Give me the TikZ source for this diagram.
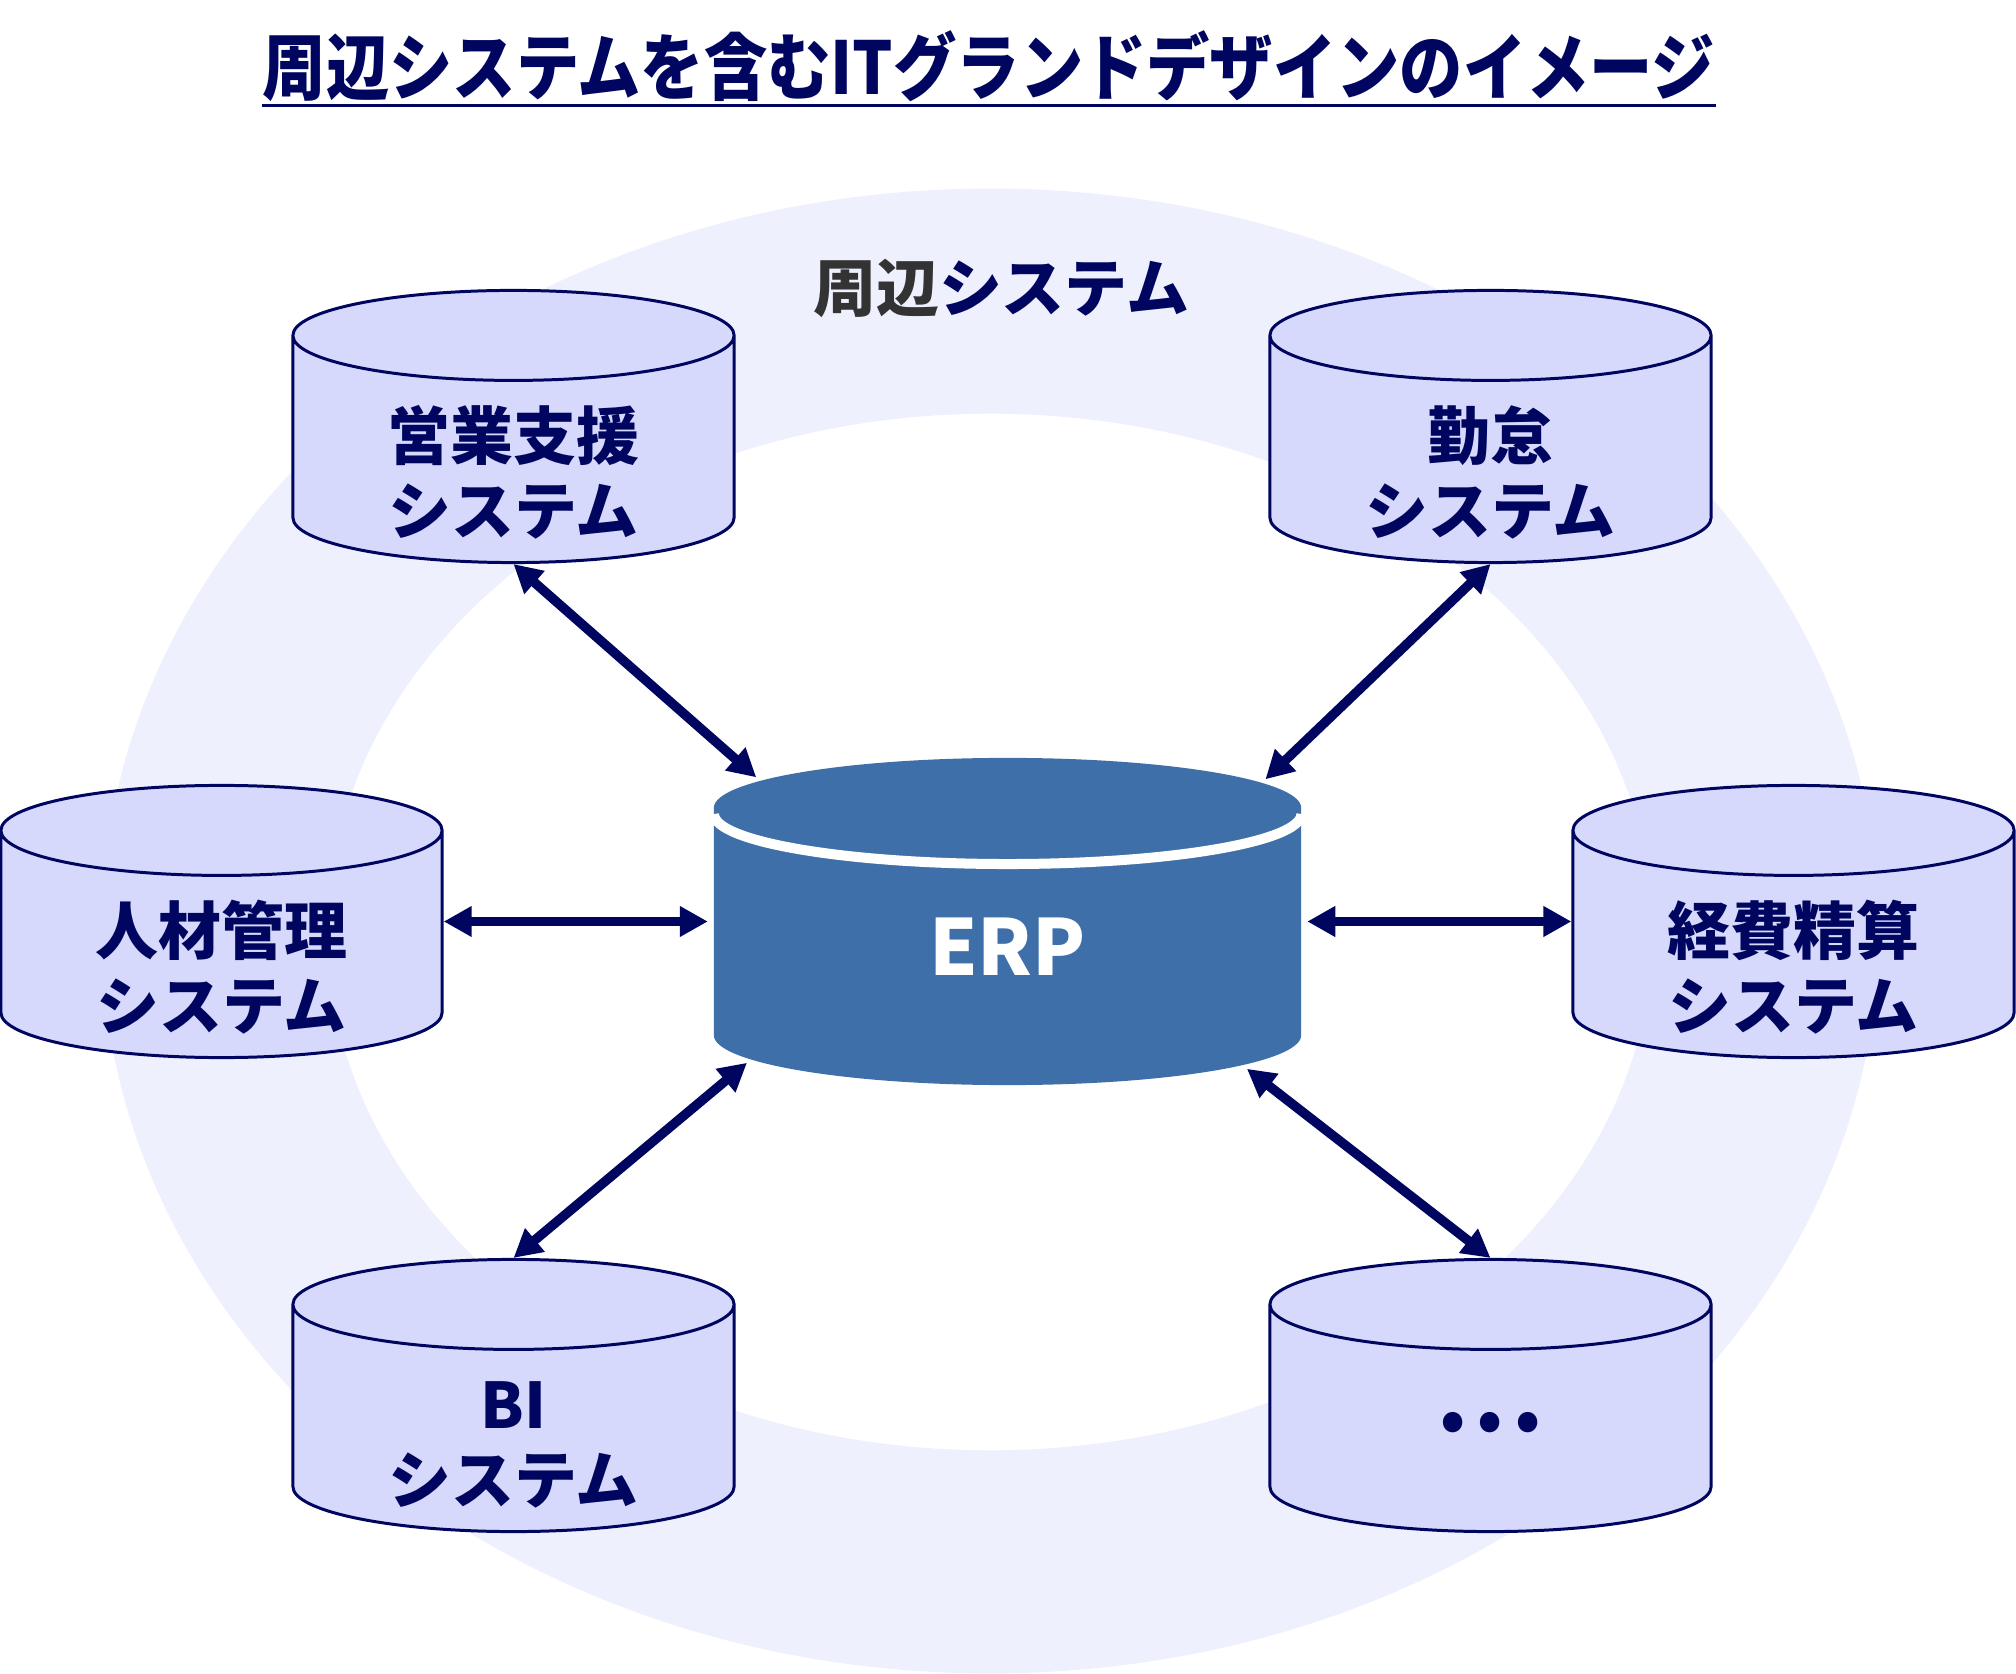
\documentclass[tikz,border=0pt]{standalone}
\usepackage{fontspec}
\setmainfont{Noto Sans CJK JP}
\usetikzlibrary{shapes.geometric, arrows.meta, calc}
\definecolor{itNavy}{RGB}{0, 6, 96}
\definecolor{itRing}{RGB}{238, 240, 253}
\definecolor{itCyl}{RGB}{214, 217, 252}
\definecolor{itErp}{RGB}{62, 111, 168}
\definecolor{itGray}{RGB}{51, 51, 51}
\tikzset{
  sysdb/.style={
    cylinder, shape border rotate=90, aspect=0.204,
    draw=itNavy, line width=0.85pt, fill=itCyl,
    text width=4.41cm, minimum height=2.72cm,
    text height=0.6cm, text depth=0.41cm,
    text=itNavy, font=\fontsize{17.9}{21.3}\selectfont\bfseries,
    align=center, inner sep=0pt, anchor=shape center
  },
  erpdb/.style={
    cylinder, shape border rotate=90, aspect=0.17,
    draw=none, fill=itErp,
    text width=5.87cm, minimum height=3.27cm,
    text=white, font=\fontsize{22}{26}\selectfont\bfseries,
    align=center, inner sep=0pt, outer sep=0.06cm, anchor=shape center
  },
  linkarrow/.style={{Triangle[length=2.8mm, width=2.9mm]}-{Triangle[length=2.8mm, width=2.9mm]},
    line width=2.7pt, color=itNavy},
  ringband/.style={fill=itRing, even odd rule}
}

\begin{document}
\begin{tikzpicture}[x=0.01cm, y=-0.01cm]
\useasboundingbox (0,0) rectangle (2016,1674);

%% RING OF SURROUNDING SYSTEMS
\path[ringband] (990,931) ellipse[x radius=8.88cm, y radius=7.42cm]
  (990,932) ellipse[x radius=6.62cm, y radius=5.18cm];

%% TITLE
\node[font=\fontsize{18}{22}\selectfont\bfseries, text=itNavy, inner sep=0pt] (title) at (989,66)
  {\scalebox{1}[1.15]{周辺システムを含むITグランドデザインのイメージ}};
\draw[itNavy, line width=0.85pt] ([yshift=-1pt]title.south west) -- ([yshift=-1pt]title.south east);

\node[font=\fontsize{17.9}{21}\selectfont\bfseries, text=itGray, inner sep=0pt] (ringlabel) at (1001,288)
  {周辺\textcolor{itNavy}{システム}};

%% CENTER
\node[erpdb] (erp) at (1007.5,921.5) {ERP};
\draw[white, line width=0.1cm] ($(erp.shape center)+(-293.5,-107.5)$)
  arc[start angle=180, end angle=360, x radius=2.935cm, y radius=0.5cm];

%% SURROUNDING SYSTEMS
\node[sysdb] (sales) at (513.5,426.5) {営業支援\\システム};
\node[sysdb] (attend) at (1490.5,426.5) {勤怠\\システム};
\node[sysdb] (hr) at (221.5,921.5) {人材管理\\システム};
\node[sysdb] (expense) at (1793.5,921.5) {経費精算\\システム};
\node[sysdb] (bi) at (513.5,1395.5) {BI\\システム};
\node[sysdb, text height=0.73cm, text depth=0.28cm] (other) at (1490.5,1395.5)
  {•\hspace{0.12cm}•\hspace{0.12cm}•};

%% ARROWS
\draw[linkarrow] (sales.south) -- (erp.146);
\draw[linkarrow] (attend.south) -- (erp.33);
\draw[linkarrow] (hr.shape center -| hr.east) -- (erp.shape center -| erp.west);
\draw[linkarrow] (erp.shape center -| erp.east) -- (expense.shape center -| expense.west);
\draw[linkarrow] (erp.204) -- (bi.north);
\draw[linkarrow] (erp.333) -- (other.north);

\end{tikzpicture}
\end{document}
